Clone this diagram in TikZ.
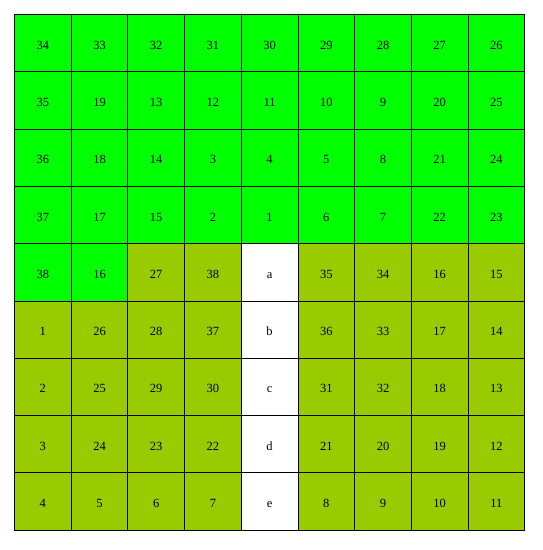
\documentclass[tikz,border=0pt]{standalone}
\usepackage{fontspec}
\setmainfont{Liberation Serif}
\definecolor{brightg}{HTML}{00FF00}
\definecolor{oliveg}{HTML}{99CC00}
\begin{document}
\begin{tikzpicture}[x=1pt,y=-1pt,
  cell/.style={draw=black,line width=0.9pt,minimum width=56.7pt,minimum height=57.3pt,inner sep=0pt,anchor=north west},
  gcell/.style={cell,fill=brightg},
  ocell/.style={cell,fill=oliveg},
  wcell/.style={cell,fill=white},
  lbl/.style={font=\fontsize{12.5}{14}\selectfont,inner sep=0pt,anchor=base}]
\useasboundingbox (0,0) rectangle (543,550);
\foreach \r/\rowlist in {
 0/{34/g,33/g,32/g,31/g,30/g,29/g,28/g,27/g,26/g},
 1/{35/g,19/g,13/g,12/g,11/g,10/g,9/g,20/g,25/g},
 2/{36/g,18/g,14/g,3/g,4/g,5/g,8/g,21/g,24/g},
 3/{37/g,17/g,15/g,2/g,1/g,6/g,7/g,22/g,23/g},
 4/{38/g,16/g,27/o,38/o,a/w,35/o,34/o,16/o,15/o},
 5/{1/o,26/o,28/o,37/o,b/w,36/o,33/o,17/o,14/o},
 6/{2/o,25/o,29/o,30/o,c/w,31/o,32/o,18/o,13/o},
 7/{3/o,24/o,23/o,22/o,d/w,21/o,20/o,19/o,12/o},
 8/{4/o,5/o,6/o,7/o,e/w,8/o,9/o,10/o,11/o}}{
  \foreach \t/\s [count=\c from 0] in \rowlist {
    \node[\s cell] (n-\r-\c) at ({14+\c*56.7},{14+\r*57.3}) {};
    \node[lbl] (t-\r-\c) at ([yshift=-6pt]n-\r-\c.center) {\t};
  }
}
\end{tikzpicture}
\end{document}
